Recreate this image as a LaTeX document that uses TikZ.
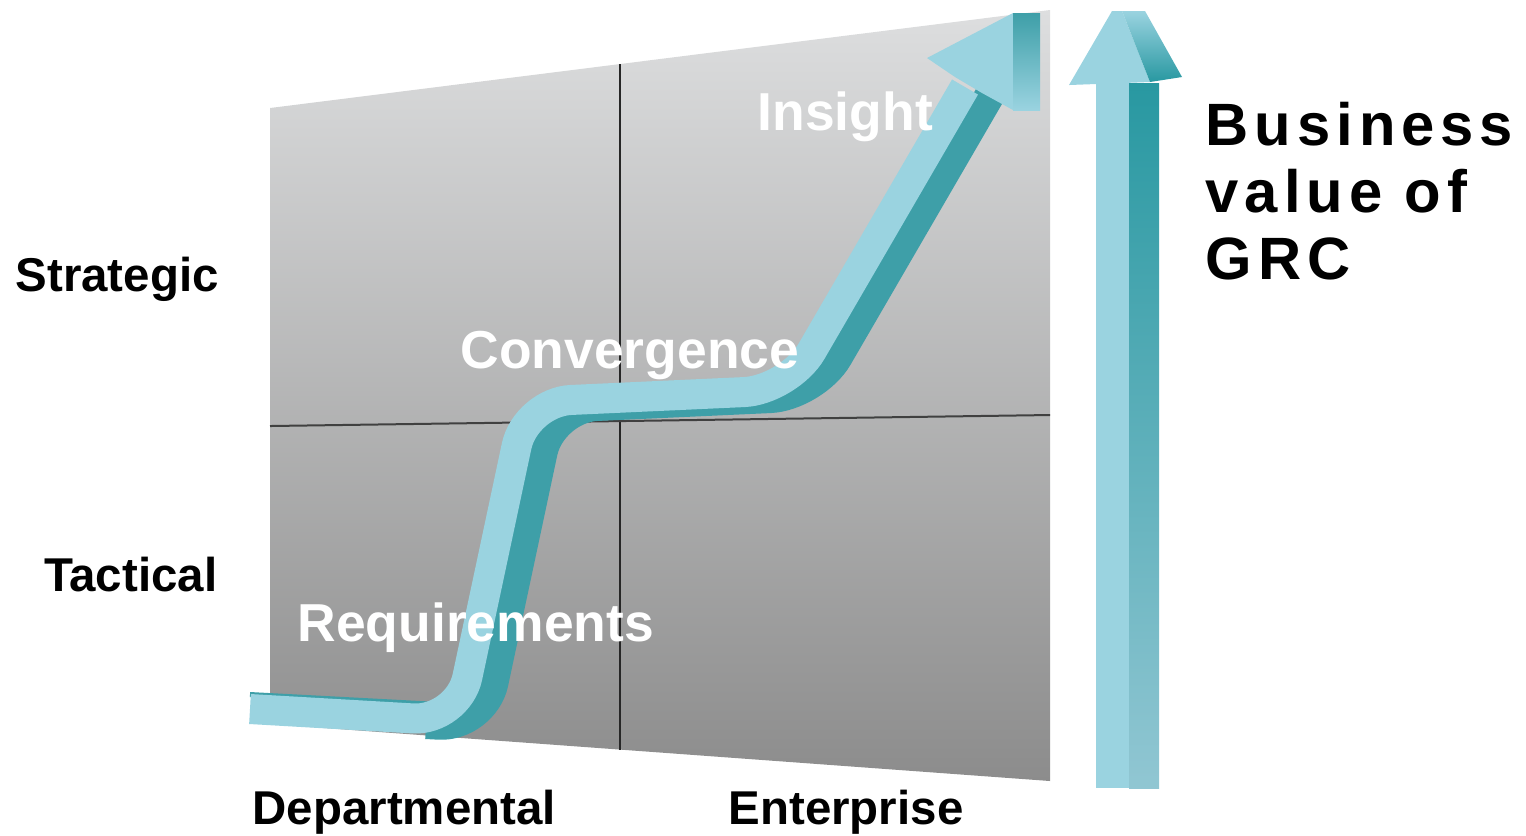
\documentclass[tikz,border=0pt]{standalone}
\usepackage{fontspec}
\setmainfont{Liberation Sans}
\newfontfamily\widesans[LetterSpace=10]{Liberation Sans}
\usetikzlibrary{calc}
\definecolor{riblight}{RGB}{154,211,224}
\definecolor{ribdark}{RGB}{62,159,168}
\definecolor{valdark}{RGB}{40,152,161}
\definecolor{paneltop}{RGB}{221,222,223}
\definecolor{panelbot}{RGB}{140,140,140}

\begin{document}
\begin{tikzpicture}[x=0.1mm,y=-0.1mm,
  axis/.style={font=\fontsize{13.5}{16}\selectfont\bfseries,inner sep=0pt},
  stage/.style={font=\fontsize{15.2}{18}\selectfont\bfseries,text=white,inner sep=0pt},
  ribbon/.style={line width=3mm,rounded corners=4.5mm},
  gridline/.style={line width=0.2mm,draw=black!85}]
  \useasboundingbox (0,0) rectangle (1526,835);
  % gray panel with the two grid lines
  \shade[top color=paneltop,bottom color=panelbot] (270,108) -- (1050,10) -- (1050,781) -- (270,724) -- cycle;
  \draw[gridline] (620,64) -- (620,750);
  \draw[gridline,draw=black!75] (270,426) -- (1050,415);
  % rising ribbon: dark side first, then the light face
  \draw[ribdark,line width=0.5mm] (250,694.5) -- (430,704);
  \draw[ribbon,ribdark] (426,724) -- (484,727) -- (552,408) -- (815,396) -- (991,93);
  \draw[ribbon,riblight] (250,709) -- (458,721) -- (526,402) -- (789,390) -- (965,87);
  \fill[riblight] (927,58) -- (1013,13) -- (1013,110) -- (982,93) -- (955,77) -- cycle;
  \shade[top color=ribdark,bottom color=riblight] (1013,13) rectangle (1040,110);
  % value arrow
  \fill[riblight] (1096,83) rectangle (1129,788);
  \shade[top color=valdark,bottom color=riblight!94!black] (1129,83) rectangle (1159,788);
  \fill[riblight] (1069,85) -- (1112,11) -- (1122,11) -- (1150,82) -- cycle;
  \shade[top color=riblight,bottom color=valdark] (1122,11) -- (1145,11) -- (1182,77) -- (1150,82) -- cycle;
  % labels
  \node[axis,anchor=base west] (strat) at (15,291) {Strategic};
  \node[axis,anchor=base east] (tact) at (218,591) {Tactical};
  \node[axis,anchor=base west] (dept) at (252,824) {Departmental};
  \node[axis,anchor=base west] (ent) at (728,824) {Enterprise};
  \node[stage,anchor=base west] (insight) at (757,130) {Insight};
  \node[stage,anchor=base west] (conv) at (460,368) {Convergence};
  \node[stage,anchor=base west] (req) at (297,641) {Requirements};
  \node[font=\widesans\bfseries\fontsize{17}{19.2}\selectfont,align=left,inner sep=0pt,anchor=north west] (value) at (1205,101) {Business\\value of\\GRC};
\end{tikzpicture}
\end{document}
